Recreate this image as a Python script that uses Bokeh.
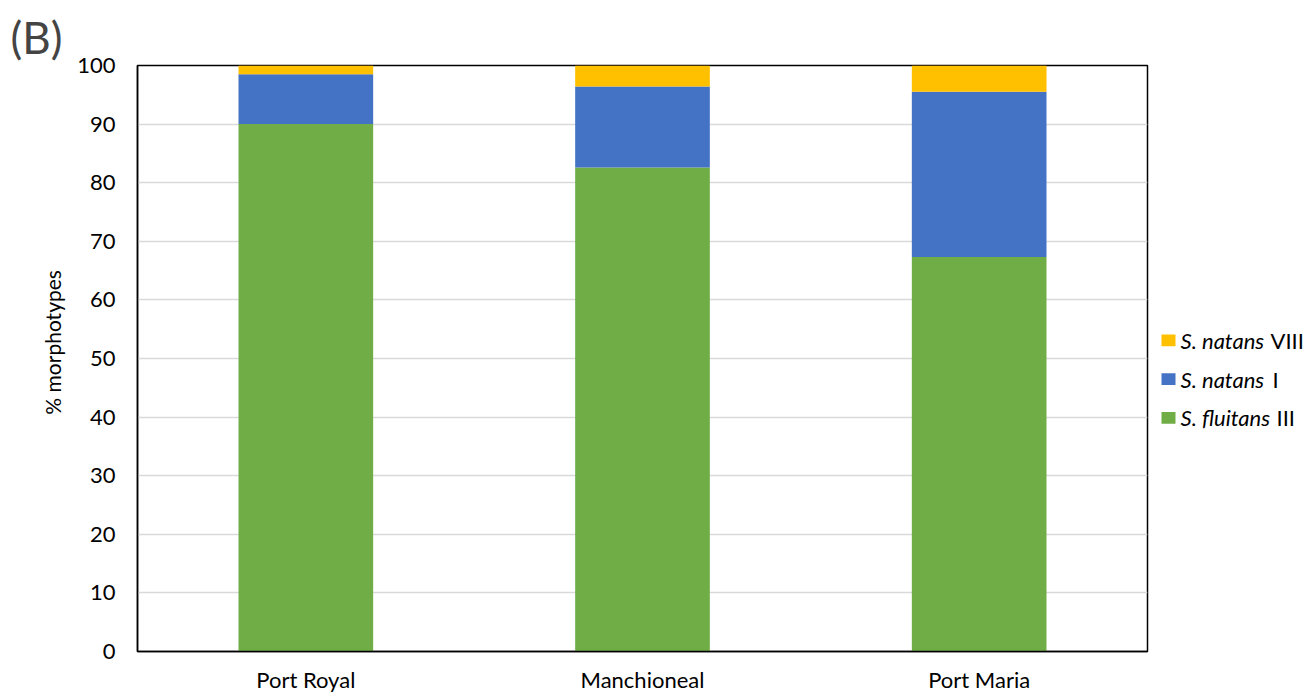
from bokeh.plotting import figure
from bokeh.models import ColumnDataSource, FactorRange, Range1d, SingleIntervalTicker
from bokeh.layouts import row
from bokeh.core.properties import value
from bokeh.embed import file_html
from bokeh.resources import INLINE

# ---- data ----
sites = ["Port Royal", "Manchioneal", "Port Maria"]
fluitans_III = [90.0, 82.6, 67.3]
natans_I = [8.5, 13.8, 28.2]
natans_VIII = [1.5, 3.6, 4.5]

series = ["fluitans_III", "natans_I", "natans_VIII"]
colors = ["#70AD47", "#4472C4", "#FFC000"]

legend_italic = ["S. natans", "S. natans", "S. fluitans"]
legend_roman = ["VIII", "I", "III"]
legend_colors = ["#FFC000", "#4472C4", "#70AD47"]

FONT = "Lato"

src = ColumnDataSource(dict(site=sites, fluitans_III=fluitans_III,
                            natans_I=natans_I, natans_VIII=natans_VIII))

p = figure(x_range=FactorRange(*sites), y_range=Range1d(0, 100),
           width=1158, height=695, output_backend="svg", toolbar_location=None,
           min_border_left=137, min_border_right=11, min_border_top=65,
           min_border_bottom=42)

p.vbar_stack(series, x="site", width=0.4, color=colors, source=src, line_color=None)

p.title.text = "(B)"
p.title.text_font = FONT
p.title.text_font_size = "44px"
p.title.text_font_style = "normal"
p.title.align = "left"
p.title.offset = -127
p.title.standoff = 5

p.outline_line_color = "black"
p.outline_line_width = 1.5
p.outline_line_alpha = 1

p.xgrid.grid_line_color = None
p.ygrid.grid_line_color = "#d9d9d9"
p.ygrid.grid_line_width = 1.5

p.yaxis.ticker = SingleIntervalTicker(interval=10)
p.yaxis.axis_line_color = "black"
p.yaxis.axis_line_width = 1.5
p.yaxis.major_tick_line_color = None
p.yaxis.minor_tick_line_color = None
p.yaxis.major_tick_out = 0
p.yaxis.major_tick_in = 0
p.yaxis.major_label_standoff = 18
p.yaxis.major_label_text_font = FONT
p.yaxis.major_label_text_font_size = "22px"
p.yaxis.major_label_text_color = "black"
p.yaxis.axis_label = "\u00a0" * 6 + "% morphotypes"
p.yaxis.axis_label_text_font = FONT
p.yaxis.axis_label_text_font_size = "21px"
p.yaxis.axis_label_text_font_style = "normal"
p.yaxis.axis_label_text_color = "black"
p.yaxis.axis_label_standoff = 9

p.xaxis.axis_line_color = "black"
p.xaxis.axis_line_width = 1.5
p.xaxis.major_tick_line_color = None
p.xaxis.major_tick_out = 0
p.xaxis.major_tick_in = 0
p.xaxis.major_label_standoff = 14
p.xaxis.major_label_text_font = FONT
p.xaxis.major_label_text_font_size = "22px"
p.xaxis.major_label_text_color = "black"

# ---- legend panel ----
lg = figure(width=148, height=695, x_range=Range1d(0, 148), y_range=Range1d(695, 0),
            output_backend="svg", toolbar_location=None,
            min_border=0, min_border_left=0, min_border_right=0,
            min_border_top=0, min_border_bottom=0)
lg.axis.visible = False
lg.grid.visible = False
lg.outline_line_color = None

leg_y = [326, 372, 418]
lsrc = ColumnDataSource(dict(y=leg_y, it=legend_italic, ro=legend_roman,
                             c=legend_colors, xr=[112, 114, 118]))
lg.rect(x=10, y="y", width=14, height=14, color="c", source=lsrc, line_color=None)
lg.text(x=22, y="y", text="it", source=lsrc, text_font=value(FONT),
        text_font_size="22px", text_font_style="italic", text_baseline="middle",
        text_color="black")
lg.text(x="xr", y="y", text="ro", source=lsrc, text_font=value(FONT),
        text_font_size="22px", text_baseline="middle", text_color="black")

layout = row(p, lg, spacing=0)
open("out.html", "w").write(file_html(layout, INLINE))
